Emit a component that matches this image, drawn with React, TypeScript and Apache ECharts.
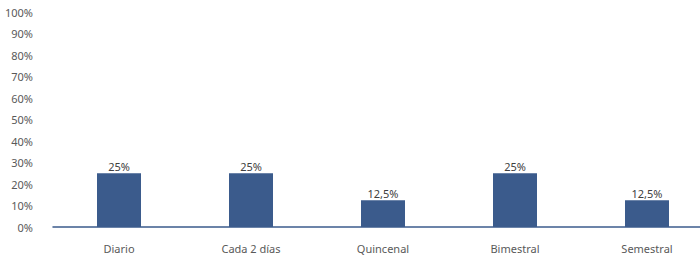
import React, { useEffect, useRef } from "react";
import * as echarts from "echarts";

const categories = ["Diario", "Cada 2 días", "Quincenal", "Bimestral", "Semestral"];
const values = [25, 25, 12.5, 25, 12.5];

export default function App() {
  const ref = useRef<HTMLDivElement>(null);
  useEffect(() => {
    if (!ref.current) return;
    const chart = echarts.init(ref.current, undefined, { renderer: "svg" });
    chart.setOption({
      animation: false,
      grid: { left: 53, top: 12, width: 660, height: 215 },
      xAxis: {
        type: "category",
        data: categories,
        axisLine: { lineStyle: { color: "#3B5B8C", width: 1.5 } },
        axisTick: { show: false },
        axisLabel: {
          color: "#595959",
          fontFamily: "Noto Sans",
          fontSize: 11,
          margin: 16,
        },
      },
      yAxis: {
        type: "value",
        min: 0,
        max: 100,
        interval: 10,
        axisLine: { show: false },
        axisTick: { show: false },
        splitLine: { show: false },
        axisLabel: {
          formatter: "{value}%",
          color: "#595959",
          fontFamily: "Noto Sans",
          fontSize: 11,
          margin: 20,
        },
      },
      series: [
        {
          type: "bar",
          data: values,
          barWidth: 44,
          itemStyle: { color: "#3B5B8C" },
          label: {
            show: true,
            position: "top",
            distance: 1,
            color: "#404040",
            fontFamily: "Noto Sans",
            fontSize: 11,
            formatter: (p: any) => String(p.value).replace(".", ",") + "%",
          },
        },
      ],
    });
    return () => chart.dispose();
  }, []);
  return (
    <div style={{ width: 700, height: 262, position: "absolute", left: 0, top: 0, overflow: "hidden" }}>
      <div ref={ref} style={{ width: 720, height: 262 }} />
    </div>
  );
}
